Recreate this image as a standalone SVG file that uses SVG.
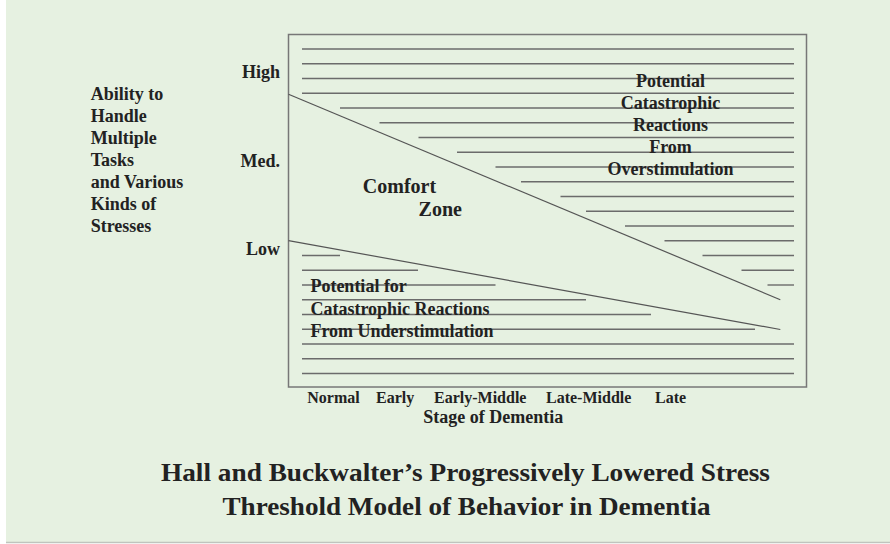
<svg xmlns="http://www.w3.org/2000/svg" width="890" height="544" viewBox="0 0 890 544">
<style>
.t{font-family:"Liberation Serif","Times New Roman",serif;font-weight:bold;fill:#222;}
.f18{font-size:18px;}
.f16{font-size:16px;}
.hl{stroke:#6b6b6b;stroke-width:1.4;fill:none;}
.dg{stroke:#555;stroke-width:1.2;fill:none;}
</style>
<rect x="0" y="0" width="890" height="544" fill="#ffffff"/>
<rect x="6" y="0" width="884" height="542" fill="#e6f1e1"/>
<line x1="6" y1="542.5" x2="890" y2="542.5" stroke="#bfc4bd" stroke-width="1.5"/>

<g id="chart-box">
<rect x="288.5" y="34.5" width="518" height="352.5" fill="none" stroke="#777" stroke-width="1.5"/>
</g>

<g id="hatching" class="hl">
<line x1="302" y1="49" x2="794" y2="49"/>
<line x1="302" y1="63.75" x2="794" y2="63.75"/>
<line x1="302" y1="78.5" x2="794" y2="78.5"/>
<line x1="302" y1="93.25" x2="794" y2="93.25"/>
<line x1="340" y1="108" x2="794" y2="108"/>
<line x1="379.5" y1="122.75" x2="794" y2="122.75"/>
<line x1="418.5" y1="137.5" x2="794" y2="137.5"/>
<line x1="457" y1="152.25" x2="794" y2="152.25"/>
<line x1="495.5" y1="167" x2="794" y2="167"/>
<line x1="521" y1="181.75" x2="794" y2="181.75"/>
<line x1="560.5" y1="196.5" x2="794" y2="196.5"/>
<line x1="586" y1="211.25" x2="794" y2="211.25"/>
<line x1="625" y1="226" x2="794" y2="226"/>
<line x1="664.5" y1="240.75" x2="794" y2="240.75"/>
<line x1="702.5" y1="255.5" x2="794" y2="255.5"/>
<line x1="741.5" y1="270.25" x2="794" y2="270.25"/>
<line x1="767.5" y1="285" x2="794" y2="285"/>
<line x1="302" y1="255.5" x2="340" y2="255.5"/>
<line x1="302" y1="270.25" x2="418" y2="270.25"/>
<line x1="302" y1="285" x2="495.5" y2="285"/>
<line x1="302" y1="299.75" x2="586" y2="299.75"/>
<line x1="302" y1="314.5" x2="651" y2="314.5"/>
<line x1="302" y1="329.25" x2="755" y2="329.25"/>
<line x1="302" y1="344" x2="794" y2="344"/>
<line x1="302" y1="358.75" x2="794" y2="358.75"/>
<line x1="302" y1="373.5" x2="794" y2="373.5"/>
</g>

<g id="thresholds" class="dg">
<line x1="288.5" y1="94.3" x2="780.3" y2="299.7"/>
<line x1="288.5" y1="240.6" x2="780.3" y2="329.5"/>
</g>

<g id="y-axis-labels" class="t f18">
<text x="90.7" y="99.5">Ability to</text>
<text x="90.7" y="121.5">Handle</text>
<text x="90.7" y="143.5">Multiple</text>
<text x="90.7" y="165.5">Tasks</text>
<text x="90.7" y="187.8">and Various</text>
<text x="90.7" y="209.8">Kinds of</text>
<text x="90.7" y="231.8">Stresses</text>
<text x="280" y="78.3" text-anchor="end">High</text>
<text x="280" y="166.7" text-anchor="end">Med.</text>
<text x="280" y="255" text-anchor="end">Low</text>
</g>

<g id="overstimulation" class="t f18" text-anchor="middle">
<text x="670.5" y="86.9">Potential</text>
<text x="670.5" y="108.9">Catastrophic</text>
<text x="670.5" y="131.3">Reactions</text>
<text x="670.5" y="153.4">From</text>
<text x="670.5" y="175.4">Overstimulation</text>
</g>

<g id="comfort-zone" class="t" style="font-size:20px">
<text x="362.8" y="193">Comfort</text>
<text x="418.6" y="215.9">Zone</text>
</g>

<g id="understimulation" class="t f18">
<text x="310.4" y="292.3">Potential for</text>
<text x="310.4" y="314.5">Catastrophic Reactions</text>
<text x="310.4" y="336.9">From Understimulation</text>
</g>

<g id="x-axis-labels" class="t f16">
<text x="307.3" y="402.7">Normal</text>
<text x="376" y="402.7">Early</text>
<text x="434" y="402.7">Early-Middle</text>
<text x="546" y="402.7">Late-Middle</text>
<text x="655" y="402.7">Late</text>
<text x="423.3" y="423.3" class="f18">Stage of Dementia</text>
</g>

<g id="title" class="t" style="font-size:26px" text-anchor="middle">
<text x="465.5" y="481" textLength="609" lengthAdjust="spacingAndGlyphs">Hall and Buckwalter’s Progressively Lowered Stress</text>
<text x="466.5" y="515" textLength="488" lengthAdjust="spacingAndGlyphs">Threshold Model of Behavior in Dementia</text>
</g>
</svg>
